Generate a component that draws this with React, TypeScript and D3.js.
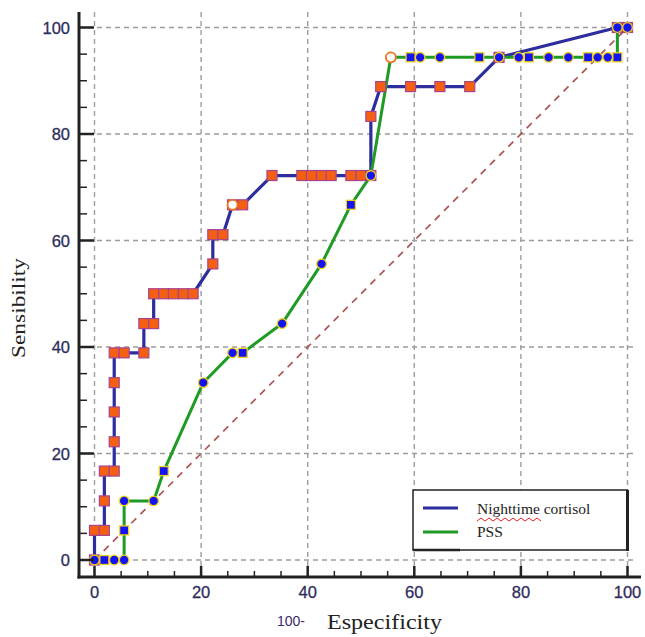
import React from 'react';
import * as d3 from 'd3';

// 100 - specificity (x) and sensitivity (y)
const cortisolX = [0, 0, 1.85, 1.85, 1.85, 3.7, 3.7, 3.7, 3.7, 3.7, 5.56, 9.26, 9.26, 11.1, 11.1, 13, 14.8, 16.7, 18.5, 22.2, 22.2, 24.1, 25.9, 27.8, 33.3, 38.9, 40.7, 42.6, 44.4, 48.1, 50, 51.85, 51.85, 53.7, 59.3, 64.8, 70.4, 75.9, 98.1, 100];
const cortisolY = [0, 5.56, 5.56, 11.1, 16.7, 16.7, 22.2, 27.8, 33.3, 38.9, 38.9, 38.9, 44.4, 44.4, 50, 50, 50, 50, 50, 55.6, 61.1, 61.1, 66.7, 66.7, 72.2, 72.2, 72.2, 72.2, 72.2, 72.2, 72.2, 72.2, 83.3, 88.9, 88.9, 88.9, 88.9, 94.4, 100, 100];
const cortisolBest = [25.9, 66.7];

const pssX = [0, 1.85, 3.7, 5.56, 5.56, 5.56, 11.1, 13, 20.4, 25.9, 27.8, 35.2, 42.6, 48.1, 51.85, 55.6, 59.3, 61.1, 64.8, 72.2, 75.9, 79.6, 81.5, 85.2, 88.9, 92.6, 94.4, 96.3, 98.1, 98.1, 100];
const pssY = [0, 0, 0, 0, 5.56, 11.1, 11.1, 16.7, 33.3, 38.9, 38.9, 44.4, 55.6, 66.7, 72.2, 94.4, 94.4, 94.4, 94.4, 94.4, 94.4, 94.4, 94.4, 94.4, 94.4, 94.4, 94.4, 94.4, 94.4, 100, 100];
const pssBest = [55.6, 94.4];

const majorTicks = [0, 20, 40, 60, 80, 100];
const minorTicks = d3.range(0, 101, 5);
const seriesNames = ['Nighttime cortisol', 'PSS'];

const W = 645;
const H = 637;

export default function App() {
  const x = d3.scaleLinear().domain([0, 100]).range([94.5, 627.5]);
  const y = d3.scaleLinear().domain([0, 100]).range([560, 27.5]);
  const axisX = 79;
  const axisY = 577;
  const top = 12;
  const right = 641;

  const line = d3.line<[number, number]>().x(d => x(d[0])).y(d => y(d[1]));
  const cortisol = cortisolX.map((v, i) => [v, cortisolY[i]] as [number, number]);
  const pss = pssX.map((v, i) => [v, pssY[i]] as [number, number]);

  const tickFont = '"Liberation Sans", Arial, sans-serif';
  const serif = '"Liberation Serif", "Times New Roman", serif';
  const tickColor = '#2e2e5c';

  // wavy spell-check underline under "Nighttime"
  const wave = d3.range(0, 17).map(i => [477 + i * 4, i % 2 ? 518 : 521] as [number, number]);

  return (
    <svg width={W} height={H} style={{ position: 'absolute', left: 0, top: 0, background: '#fff' }}>
      {/* grid */}
      <g stroke="#9c9c9c" strokeWidth={1.4} strokeDasharray="5,4" fill="none">
        {majorTicks.map(t => (
          <line key={'h' + t} x1={axisX} x2={right - 6} y1={y(t)} y2={y(t)} />
        ))}
        {majorTicks.map(t => (
          <line key={'v' + t} x1={x(t)} x2={x(t)} y1={top} y2={axisY} />
        ))}
      </g>

      {/* reference diagonal */}
      <line x1={x(0)} y1={y(0)} x2={x(100)} y2={y(100)} stroke="#ad5454" strokeWidth={1.7} strokeDasharray="7,6" />

      {/* curves */}
      <path d={line(cortisol) || ''} fill="none" stroke="#2d2d9e" strokeWidth={3.2} strokeLinejoin="round" />
      <path d={line(pss) || ''} fill="none" stroke="#1f9a24" strokeWidth={3} strokeLinejoin="round" />

      {/* markers */}
      {cortisol.map((d, i) => (
        <rect key={'c' + i} x={x(d[0]) - 5} y={y(d[1]) - 5} width={10} height={10}
          fill="#f45f12" stroke="#a8448e" strokeWidth={1.2} />
      ))}
      {pss.map((d, i) => (
        i % 3 === 1
          ? <rect key={'p' + i} x={x(d[0]) - 4.5} y={y(d[1]) - 4.5} width={9} height={9}
              fill="#1414f0" stroke="#f2d21a" strokeWidth={1.3} />
          : <circle key={'p' + i} cx={x(d[0])} cy={y(d[1])} r={4.8}
              fill="#1414f0" stroke="#f2d21a" strokeWidth={1.3} />
      ))}
      {[cortisolBest, pssBest].map((d, i) => (
        <circle key={'b' + i} cx={x(d[0])} cy={y(d[1])} r={5}
          fill="#ffffff" stroke="#f07020" strokeWidth={1.8} />
      ))}

      {/* axes */}
      <g stroke="#222" fill="none">
        <line x1={axisX} x2={axisX} y1={top} y2={axisY + 1.5} strokeWidth={3} />
        <line x1={axisX - 1.5} x2={right} y1={axisY} y2={axisY} strokeWidth={3} />
        {minorTicks.map(t => {
          const major = t % 20 === 0;
          return (
            <g key={'t' + t}>
              <line x1={axisX} x2={axisX + (major ? 15 : 8)} y1={y(t)} y2={y(t)} strokeWidth={major ? 2.5 : 1.5} />
              <line x1={x(t)} x2={x(t)} y1={axisY} y2={axisY - (major ? 11 : 6)} strokeWidth={major ? 2.5 : 1.5} />
            </g>
          );
        })}
      </g>
      <g fontFamily={tickFont} fontSize={16.5} fill={tickColor} stroke={tickColor} strokeWidth={0.3}>
        {majorTicks.map(t => (
          <text key={'yl' + t} x={70} y={y(t) + 6} textAnchor="end">{t}</text>
        ))}
        {majorTicks.map(t => (
          <text key={'xl' + t} x={x(t)} y={598} textAnchor="middle">{t}</text>
        ))}
      </g>

      {/* axis titles */}
      <text transform="translate(25,308) rotate(-90)" textAnchor="middle" fontFamily={serif}
        fontSize={19} textLength={100} lengthAdjust="spacingAndGlyphs" fill="#222">Sensibility</text>
      <text x={277} y={626} fontFamily={tickFont} fontSize={14} fill="#3a2c6c">100-</text>
      <text x={327} y={629} fontFamily={serif} fontSize={20} textLength={115}
        lengthAdjust="spacingAndGlyphs" fill="#222">Especificity</text>

      {/* legend */}
      <rect x={413} y={490} width={214} height={60} fill="#fff" stroke="#222" strokeWidth={1.5} />
      <line x1={627.5} x2={627.5} y1={490} y2={551} stroke="#222" strokeWidth={3} />
      <line x1={413} x2={460} y1={550} y2={550} stroke="#222" strokeWidth={2.5} />
      <line x1={423} x2={458} y1={508} y2={508} stroke="#2d2d9e" strokeWidth={3} />
      <line x1={423} x2={458} y1={532} y2={532} stroke="#1f9a24" strokeWidth={3} />
      <text x={477} y={514} fontFamily={serif} fontSize={15.5} fill="#222">{seriesNames[0]}</text>
      <text x={477} y={537} fontFamily={serif} fontSize={15.5} fill="#222">{seriesNames[1]}</text>
      <path d={d3.line()(wave) || ''} fill="none" stroke="#e02020" strokeWidth={1} />
    </svg>
  );
}
